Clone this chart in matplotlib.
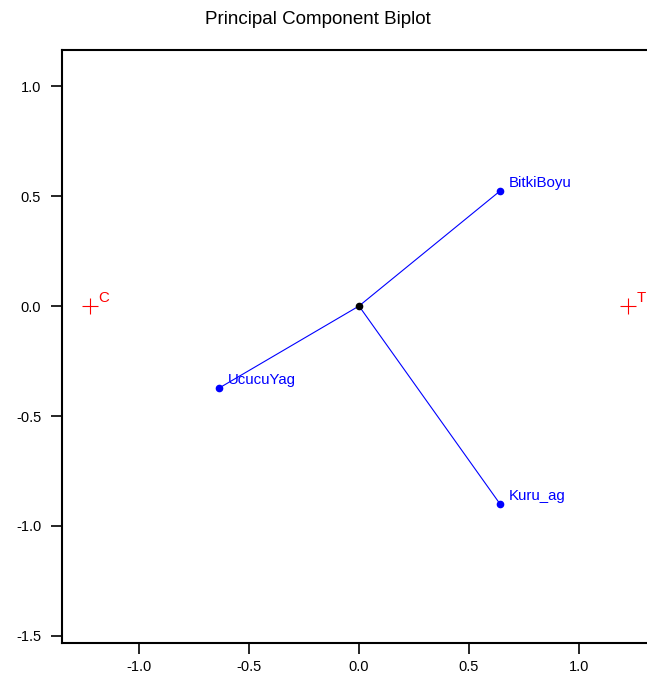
import matplotlib
matplotlib.use("Agg")
import matplotlib.pyplot as plt

plt.rcParams['font.family'] = ['Liberation Sans', 'DejaVu Sans']

# variable loadings (blue vectors)
var_names = ['BitkiBoyu', 'UcucuYag', 'Kuru_ag']
var_x = [0.641, -0.636, 0.641]
var_y = [0.523, -0.373, -0.900]

# observations (red crosses)
obs_names = ['C', 'T']
obs_x = [-1.223, 1.223]
obs_y = [0.0, 0.0]

xticks = [-1.0, -0.5, 0.0, 0.5, 1.0]
yticks = [-1.5, -1.0, -0.5, 0.0, 0.5, 1.0]

W, H = 647, 675
fig = plt.figure(figsize=(W / 100, H / 100), dpi=100)
ax = fig.add_axes([62 / W, 32 / H, (W - 62) / W, (643 - 50) / H])

for vx, vy, name in zip(var_x, var_y, var_names):
    ax.plot([0, vx], [0, vy], color='blue', lw=0.8)
    ax.plot(vx, vy, 'o', color='blue', ms=4.5)
    ax.annotate(name, (vx, vy), xytext=(6, 6), textcoords='offset points',
                color='blue', fontsize=10.8, va='center', ha='left')
ax.plot(0, 0, 'o', color='black', ms=4.5)

ax.plot(obs_x, obs_y, '+', color='red', ms=11, mew=0.8, ls='none')
for ox, oy, name in zip(obs_x, obs_y, obs_names):
    ax.annotate(name, (ox, oy), xytext=(6, 6), textcoords='offset points',
                color='red', fontsize=10.8, va='center', ha='left')

ax.set_xlim(-1.35, 1.309)
ax.set_ylim(-1.532, 1.164)
ax.set_xticks(xticks)
ax.set_yticks(yticks)
ax.set_xticklabels(['%.1f' % v for v in xticks])
ax.set_yticklabels(['%.1f' % v for v in yticks])
ax.tick_params(direction='out', length=8, width=1.2, labelsize=10.5)
ax.tick_params(axis='x', pad=4)
ax.tick_params(axis='y', pad=7)
for s in ['left', 'bottom', 'top']:
    ax.spines[s].set_linewidth(1.5)
ax.spines['right'].set_visible(False)

fig.text(318 / W, 1 - 19 / H, 'Principal Component Biplot', ha='center',
         va='center', fontsize=13.5)

fig.savefig('out.png', dpi=100)
